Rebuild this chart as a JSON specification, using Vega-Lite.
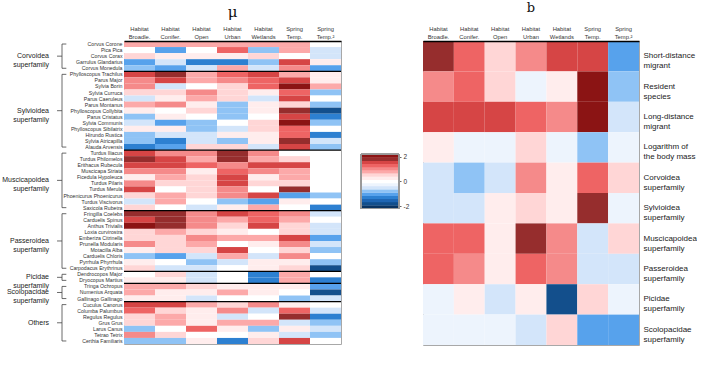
{
"$schema":"https://vega.github.io/schema/vega-lite/v6.json",
"autosize":{"type":"pad"},
"padding":{"left":0,"top":1,"right":0,"bottom":0},
"datasets":{
"mu":[
{"s":"Corvus Corone","g":"Corvoidea superfamily","i":1,"BL":0.8,"CF":0.8,"OP":0.8,"UR":0.8,"WE":0.8,"ST":0.8,"ST2":0},
{"s":"Pica Pica","g":"Corvoidea superfamily","i":2,"BL":0,"CF":-1.05,"OP":0,"UR":1.3,"WE":-0.8,"ST":0.8,"ST2":-0.5},
{"s":"Corvus Corax","g":"Corvoidea superfamily","i":3,"BL":0.5,"CF":0.25,"OP":0.25,"UR":0.25,"WE":0.5,"ST":0,"ST2":-0.5},
{"s":"Garrulus Glandarius","g":"Corvoidea superfamily","i":4,"BL":-1.05,"CF":-0.5,"OP":-1.3,"UR":-1.3,"WE":-0.8,"ST":1.55,"ST2":0.25},
{"s":"Corvus Monedula","g":"Corvoidea superfamily","i":5,"BL":-0.8,"CF":-1.05,"OP":-0.5,"UR":0.8,"WE":-0.5,"ST":1.05,"ST2":-1.05},
{"s":"Phylloscopus Trachilus","g":"Sylvioidea superfamily","i":6,"BL":1.55,"CF":1.8,"OP":0.8,"UR":1.3,"WE":1.55,"ST":0.8,"ST2":0.25},
{"s":"Parus Major","g":"Sylvioidea superfamily","i":7,"BL":1.05,"CF":1.55,"OP":0.8,"UR":1.05,"WE":1.3,"ST":1.55,"ST2":0.25},
{"s":"Sylvia Borin","g":"Sylvioidea superfamily","i":8,"BL":1.05,"CF":-0.5,"OP":0,"UR":0.5,"WE":1.3,"ST":2.05,"ST2":0.8},
{"s":"Sylvia Curruca","g":"Sylvioidea superfamily","i":9,"BL":0.5,"CF":0.5,"OP":1.05,"UR":0.5,"WE":0.25,"ST":1.3,"ST2":-0.8},
{"s":"Parus Caeruleus","g":"Sylvioidea superfamily","i":10,"BL":-0.5,"CF":0.25,"OP":0.8,"UR":0.5,"WE":-0.5,"ST":1.55,"ST2":0},
{"s":"Parus Montanus","g":"Sylvioidea superfamily","i":11,"BL":0.8,"CF":1.05,"OP":0.25,"UR":-0.8,"WE":0.25,"ST":0.5,"ST2":-0.8},
{"s":"Phylloscopus Collybita","g":"Sylvioidea superfamily","i":12,"BL":0.25,"CF":0,"OP":0.5,"UR":-0.8,"WE":0.25,"ST":1.8,"ST2":-1.8},
{"s":"Parus Cristatus","g":"Sylvioidea superfamily","i":13,"BL":-0.8,"CF":0.25,"OP":0,"UR":-0.8,"WE":0,"ST":1.55,"ST2":-1.3},
{"s":"Sylvia Communis","g":"Sylvioidea superfamily","i":14,"BL":-0.5,"CF":-1.05,"OP":-0.8,"UR":0,"WE":0.5,"ST":2.05,"ST2":-0.8},
{"s":"Phylloscopus Sibilatrix","g":"Sylvioidea superfamily","i":15,"BL":0.25,"CF":0.25,"OP":-0.8,"UR":-0.5,"WE":0.5,"ST":1.3,"ST2":0},
{"s":"Hirundo Rustica","g":"Sylvioidea superfamily","i":16,"BL":-0.8,"CF":-0.5,"OP":-0.5,"UR":0.25,"WE":0.25,"ST":1.3,"ST2":-1.3},
{"s":"Sylvia Atricapilla","g":"Sylvioidea superfamily","i":17,"BL":-0.8,"CF":-1.3,"OP":-0.5,"UR":-0.8,"WE":0.25,"ST":1.8,"ST2":-0.5},
{"s":"Alauda Arvensis","g":"Sylvioidea superfamily","i":18,"BL":-1.3,"CF":-1.05,"OP":0.5,"UR":0.5,"WE":-0.5,"ST":1.55,"ST2":-0.8},
{"s":"Turdus Iliacus","g":"Muscicapoidea superfamily","i":19,"BL":1.55,"CF":1.05,"OP":1.05,"UR":1.8,"WE":1.05,"ST":0,"ST2":0},
{"s":"Turdus Philomelos","g":"Muscicapoidea superfamily","i":20,"BL":1.8,"CF":1.55,"OP":0.8,"UR":1.8,"WE":0.8,"ST":0.5,"ST2":0},
{"s":"Erithacus Rubecula","g":"Muscicapoidea superfamily","i":21,"BL":1.55,"CF":1.55,"OP":1.3,"UR":1.05,"WE":1.55,"ST":1.55,"ST2":0},
{"s":"Muscicapa Striata","g":"Muscicapoidea superfamily","i":22,"BL":1.05,"CF":1.05,"OP":0.25,"UR":1.3,"WE":1.05,"ST":0.8,"ST2":0},
{"s":"Ficedula Hypoleuca","g":"Muscicapoidea superfamily","i":23,"BL":0.25,"CF":0.8,"OP":0.5,"UR":1.55,"WE":0.25,"ST":0.8,"ST2":0},
{"s":"Turdus Pilaris","g":"Muscicapoidea superfamily","i":24,"BL":1.05,"CF":0.5,"OP":0.5,"UR":1.55,"WE":0.5,"ST":0.5,"ST2":0},
{"s":"Turdus Merula","g":"Muscicapoidea superfamily","i":25,"BL":1.55,"CF":0,"OP":0.5,"UR":1.05,"WE":0,"ST":1.8,"ST2":0},
{"s":"Phoenicurus Phoenicurus","g":"Muscicapoidea superfamily","i":26,"BL":0.5,"CF":0.8,"OP":0.5,"UR":1.05,"WE":1.55,"ST":-1.05,"ST2":-0.8},
{"s":"Turdus Viscivorus","g":"Muscicapoidea superfamily","i":27,"BL":-0.5,"CF":0.8,"OP":0,"UR":-0.8,"WE":-1.05,"ST":0.25,"ST2":0},
{"s":"Saxicola Rubetra","g":"Muscicapoidea superfamily","i":28,"BL":0.5,"CF":0,"OP":-0.5,"UR":0.25,"WE":0.8,"ST":0,"ST2":-1.3},
{"s":"Fringilla Coelebs","g":"Passeroidea superfamily","i":29,"BL":1.8,"CF":1.8,"OP":1.05,"UR":1.55,"WE":1.3,"ST":1.05,"ST2":-0.5},
{"s":"Carduelis Spinus","g":"Passeroidea superfamily","i":30,"BL":1.55,"CF":1.8,"OP":1.05,"UR":0.8,"WE":1.3,"ST":0.8,"ST2":0},
{"s":"Anthus Trivialis","g":"Passeroidea superfamily","i":31,"BL":2.05,"CF":1.8,"OP":1.05,"UR":0.5,"WE":1.55,"ST":0.5,"ST2":-0.5},
{"s":"Loxia curvirostra","g":"Passeroidea superfamily","i":32,"BL":0.5,"CF":0.8,"OP":0.5,"UR":0.25,"WE":0,"ST":0.5,"ST2":-0.5},
{"s":"Emberiza Citrinella","g":"Passeroidea superfamily","i":33,"BL":0.5,"CF":0.5,"OP":1.05,"UR":0.8,"WE":0.8,"ST":1.55,"ST2":-1.05},
{"s":"Prunella Modularis","g":"Passeroidea superfamily","i":34,"BL":1.05,"CF":0.5,"OP":0.8,"UR":0,"WE":0.25,"ST":1.05,"ST2":-0.5},
{"s":"Motacilla Alba","g":"Passeroidea superfamily","i":35,"BL":0.25,"CF":0.5,"OP":0.5,"UR":1.55,"WE":0,"ST":0.5,"ST2":-0.8},
{"s":"Carduelis Chloris","g":"Passeroidea superfamily","i":36,"BL":-0.8,"CF":-1.05,"OP":-0.5,"UR":0.8,"WE":-0.5,"ST":1.05,"ST2":0},
{"s":"Pyrrhula Phyrrhula","g":"Passeroidea superfamily","i":37,"BL":0.25,"CF":0,"OP":-0.8,"UR":-0.5,"WE":0.25,"ST":0.25,"ST2":-0.8},
{"s":"Carpodacus Erythrinus","g":"Passeroidea superfamily","i":38,"BL":0.5,"CF":-0.5,"OP":-0.5,"UR":0,"WE":0.25,"ST":0.5,"ST2":-1.8},
{"s":"Dendrocopos Major","g":"Picidae superfamily","i":39,"BL":0,"CF":0.5,"OP":-0.5,"UR":0,"WE":-1.3,"ST":0.8,"ST2":0},
{"s":"Dryocopus Martius","g":"Picidae superfamily","i":40,"BL":0.25,"CF":0.25,"OP":-0.5,"UR":0,"WE":-1.3,"ST":0.8,"ST2":-1.3},
{"s":"Tringa Ochropus","g":"Scolopacidae superfamily","i":41,"BL":0.8,"CF":0.8,"OP":0.5,"UR":0.25,"WE":0.25,"ST":0.25,"ST2":-1.05},
{"s":"Numenius Arquata","g":"Scolopacidae superfamily","i":42,"BL":0.8,"CF":0.25,"OP":0.25,"UR":0.8,"WE":0.25,"ST":0,"ST2":-1.8},
{"s":"Gallinago Gallinago","g":"Scolopacidae superfamily","i":43,"BL":0.25,"CF":0.25,"OP":-0.5,"UR":0,"WE":0,"ST":-0.8,"ST2":-0.5},
{"s":"Cuculus Canorus","g":"Others","i":44,"BL":1.55,"CF":1.55,"OP":0.8,"UR":0.5,"WE":1.05,"ST":0.25,"ST2":0},
{"s":"Columba Palumbus","g":"Others","i":45,"BL":1.3,"CF":0.5,"OP":0.25,"UR":1.05,"WE":-0.5,"ST":1.3,"ST2":-0.5},
{"s":"Regulus Regulus","g":"Others","i":46,"BL":0.5,"CF":0.8,"OP":0.25,"UR":-0.5,"WE":0,"ST":1.8,"ST2":-1.3},
{"s":"Grus Grus","g":"Others","i":47,"BL":0.5,"CF":0.8,"OP":0.25,"UR":0.8,"WE":0.8,"ST":-0.5,"ST2":-0.8},
{"s":"Larus Canus","g":"Others","i":48,"BL":-0.8,"CF":0,"OP":1.3,"UR":0.25,"WE":-0.8,"ST":0.25,"ST2":-0.5},
{"s":"Tetrao Tetrix","g":"Others","i":49,"BL":1.05,"CF":0.5,"OP":0,"UR":0,"WE":0.25,"ST":-0.5,"ST2":-0.8},
{"s":"Certhia Familiaris","g":"Others","i":50,"BL":-0.8,"CF":-0.8,"OP":0.25,"UR":-1.3,"WE":0.5,"ST":1.55,"ST2":0}
],
"b":[
{"r":"Short-distance|migrant","i":1,"BL":1.8,"CF":1.3,"OP":0.5,"UR":1.05,"WE":1.55,"ST":1.55,"ST2":-1.05},
{"r":"Resident|species","i":2,"BL":1.05,"CF":1.3,"OP":0.5,"UR":-0.25,"WE":0.25,"ST":2.05,"ST2":-0.8},
{"r":"Long-distance|migrant","i":3,"BL":1.55,"CF":1.55,"OP":1.55,"UR":1.3,"WE":1.05,"ST":2.05,"ST2":-0.5},
{"r":"Logarithm of|the body mass","i":4,"BL":0.25,"CF":-0.25,"OP":-0.25,"UR":0.5,"WE":-0.25,"ST":-0.8,"ST2":-0.25},
{"r":"Corvoidea|superfamily","i":5,"BL":-0.5,"CF":-0.8,"OP":-0.5,"UR":1.05,"WE":0.25,"ST":1.3,"ST2":0.5},
{"r":"Sylvioidea|superfamily","i":6,"BL":-0.5,"CF":-0.5,"OP":0.25,"UR":0.5,"WE":0.25,"ST":1.8,"ST2":-0.25},
{"r":"Muscicapoidea|superfamily","i":7,"BL":1.3,"CF":1.3,"OP":0.25,"UR":1.8,"WE":1.05,"ST":-0.5,"ST2":0.5},
{"r":"Passeroidea|superfamily","i":8,"BL":1.3,"CF":1.05,"OP":0.25,"UR":1.3,"WE":1.05,"ST":-0.5,"ST2":-0.5},
{"r":"Picidae|superfamily","i":9,"BL":-0.25,"CF":0.25,"OP":-0.5,"UR":0.25,"WE":-1.8,"ST":0.5,"ST2":-0.25},
{"r":"Scolopacidae|superfamily","i":10,"BL":-0.25,"CF":-0.25,"OP":-0.25,"UR":-0.5,"WE":0.5,"ST":-1.05,"ST2":-1.05}
],
"leg":[{"v":-2.07},{"v":-1.81},{"v":-1.55},{"v":-1.29},{"v":-1.04},{"v":-0.78},{"v":-0.52},{"v":-0.26},{"v":0},{"v":0.26},{"v":0.52},{"v":0.78},{"v":1.04},{"v":1.29},{"v":1.55},{"v":1.81},{"v":2.07}]
},
"spacing":0,
"bounds":"flush",
"resolve":{"scale":{"color":"shared","x":"independent","y":"independent"}},
"hconcat":[
{
"width":124,"height":303,"view":{"stroke":null},
"data":{"name":"mu"},
"transform":[{"aggregate":[{"op":"min","field":"i","as":"a"},{"op":"max","field":"i","as":"b"},{"op":"mean","field":"i","as":"m"}],"groupby":["g"]}],
"layer":[
{"mark":{"type":"text","align":"right","baseline":"middle","lineBreak":" ","fontSize":7,"lineHeight":9,"color":"#222"},
"encoding":{"x":{"datum":0.395,"type":"quantitative","scale":{"domain":[0,1],"nice":false,"zero":false},"axis":null},
"y":{"field":"m","type":"quantitative","scale":{"domain":[0.5,50.5],"reverse":true,"nice":false,"zero":false},"axis":null},
"text":{"field":"g"}}},
{"mark":{"type":"rule","color":"#444","strokeWidth":0.8},
"encoding":{"x":{"datum":0.5,"type":"quantitative"},"y":{"field":"a","type":"quantitative"},"y2":{"field":"b"}}},
{"mark":{"type":"rule","color":"#444","strokeWidth":0.8},
"encoding":{"x":{"datum":0.46,"type":"quantitative"},"x2":{"datum":0.5},"y":{"field":"m","type":"quantitative"}}},
{"mark":{"type":"rule","color":"#444","strokeWidth":0.8},
"encoding":{"x":{"datum":0.5,"type":"quantitative"},"x2":{"datum":0.535},"y":{"field":"a","type":"quantitative"}}},
{"mark":{"type":"rule","color":"#444","strokeWidth":0.8},
"encoding":{"x":{"datum":0.5,"type":"quantitative"},"x2":{"datum":0.535},"y":{"field":"b","type":"quantitative"}}}
]
},
{
"width":217,"height":303,
"title":{"text":"μ","font":"DejaVu Serif","fontSize":15,"fontWeight":"normal","offset":5,"color":"#111"},
"data":{"name":"mu"},
"layer":[
{"transform":[{"fold":["BL","CF","OP","UR","WE","ST","ST2"],"as":["k","v"]}],
"mark":{"type":"rect"},
"encoding":{
"x":{"field":"k","type":"nominal","sort":["BL","CF","OP","UR","WE","ST","ST2"],"scale":{"paddingInner":0,"paddingOuter":0},
"axis":{"orient":"top","title":null,"labelAngle":0,"labelFontSize":5.8,"labelLineHeight":8,"labelColor":"#333","labelPadding":10,"ticks":false,"domain":true,"domainColor":"#000","domainWidth":1.5,
"labelExpr":"datum.value=='BL'?['Habitat','Broadle.']:datum.value=='CF'?['Habitat','Conifer.']:datum.value=='OP'?['Habitat','Open']:datum.value=='UR'?['Habitat','Urban']:datum.value=='WE'?['Habitat','Wetlands']:datum.value=='ST'?['Spring','Temp.']:['Spring','Temp.²']"}},
"y":{"field":"s","type":"nominal","sort":{"field":"i","op":"min"},"scale":{"paddingInner":0,"paddingOuter":0},
"axis":{"title":null,"labelFontSize":5.2,"labelOverlap":false,"labelPadding":2,"labelColor":"#333","ticks":false,"domain":false}},
"color":{"field":"v","type":"quantitative","scale":{"type":"quantize","domain":[-2.2,2.2],"nice":false,"range":["#0b3461","#134f8c","#1f66b3","#2d80d1","#57a2ec","#8fc3f5","#d3e5fa","#edf4fd","#ffffff","#ffeded","#ffd6d6","#fca9a9","#f58a8a","#ee6464","#d64545","#962d2d","#8b1414"]},"legend":null}
}},
{"transform":[{"joinaggregate":[{"op":"min","field":"i","as":"gi"}],"groupby":["g"]},{"filter":"datum.i == datum.gi && datum.i > 1"}],
"mark":{"type":"rule","color":"#000","strokeWidth":1.2},
"encoding":{"y":{"field":"s","type":"nominal","sort":{"field":"i","op":"min"},"bandPosition":0}}}
]
},
{
"width":82,"height":303,"view":{"stroke":null},
"data":{"name":"leg"},
"layer":[
{"mark":{"type":"bar","size":3.5},
"encoding":{
"x":{"datum":0.244,"type":"quantitative","scale":{"domain":[0,1],"nice":false,"zero":false},"axis":null},
"x2":{"datum":0.707},
"y":{"field":"v","type":"quantitative","scale":{"domain":[-12.8,11],"nice":false,"zero":false},
"axis":{"orient":"right","offset":-24,"values":[-2,0,2],"labelExpr":"datum.value < 0 ? '-2' : datum.label","title":null,"ticks":true,"tickSize":2,"tickColor":"#666","domain":false,"grid":false,"labelFontSize":6.5,"labelColor":"#333","labelPadding":2}},
"color":{"field":"v","type":"quantitative","scale":{"type":"quantize","domain":[-2.2,2.2],"nice":false,"range":["#0b3461","#134f8c","#1f66b3","#2d80d1","#57a2ec","#8fc3f5","#d3e5fa","#edf4fd","#ffffff","#ffeded","#ffd6d6","#fca9a9","#f58a8a","#ee6464","#d64545","#962d2d","#8b1414"]},"legend":null}
}},
{"mark":{"type":"rect","fill":null,"stroke":"#999","strokeWidth":0.8},
"encoding":{"x":{"datum":0.244,"type":"quantitative"},"x2":{"datum":0.707},"y":{"datum":-2.2,"type":"quantitative"},"y2":{"datum":2.2}}}
]
},
{
"width":216,"height":304,
"title":{"text":"b","font":"DejaVu Serif","fontSize":13,"fontWeight":"normal","offset":10,"color":"#111"},
"data":{"name":"b"},
"transform":[{"fold":["BL","CF","OP","UR","WE","ST","ST2"],"as":["k","v"]}],
"mark":{"type":"rect"},
"encoding":{
"x":{"field":"k","type":"nominal","sort":["BL","CF","OP","UR","WE","ST","ST2"],"scale":{"paddingInner":0,"paddingOuter":0},
"axis":{"orient":"top","title":null,"labelAngle":0,"labelFontSize":5.8,"labelLineHeight":8,"labelColor":"#333","labelPadding":10,"ticks":false,"domain":true,"domainColor":"#000","domainWidth":1.5,
"labelExpr":"datum.value=='BL'?['Habitat','Broadle.']:datum.value=='CF'?['Habitat','Conifer.']:datum.value=='OP'?['Habitat','Open']:datum.value=='UR'?['Habitat','Urban']:datum.value=='WE'?['Habitat','Wetlands']:datum.value=='ST'?['Spring','Temp.']:['Spring','Temp.²']"}},
"y":{"field":"r","type":"nominal","sort":{"field":"i","op":"min"},"scale":{"paddingInner":0,"paddingOuter":0},
"axis":{"orient":"right","title":null,"labelFontSize":8,"labelLineHeight":10,"labelColor":"#222","labelPadding":4,"ticks":false,"domain":false,"labelExpr":"split(datum.value,'|')"}},
"color":{"field":"v","type":"quantitative","scale":{"type":"quantize","domain":[-2.2,2.2],"nice":false,"range":["#0b3461","#134f8c","#1f66b3","#2d80d1","#57a2ec","#8fc3f5","#d3e5fa","#edf4fd","#ffffff","#ffeded","#ffd6d6","#fca9a9","#f58a8a","#ee6464","#d64545","#962d2d","#8b1414"]},"legend":null}
}
}
],
"config":{"font":"Liberation Sans","view":{"stroke":"#a8a8a8","strokeWidth":1},"axis":{"grid":false}}
}
